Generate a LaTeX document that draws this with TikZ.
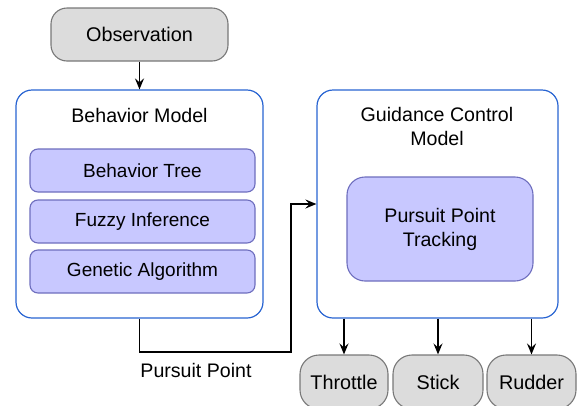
\documentclass[tikz,border=0pt]{standalone}
\usepackage{fontspec}
\setmainfont{Liberation Sans}
\usetikzlibrary{arrows.meta}
\definecolor{grayfill}{RGB}{220,220,220}
\definecolor{grayline}{RGB}{120,120,120}
\definecolor{blueline}{RGB}{40,100,210}
\definecolor{purfill}{RGB}{200,200,255}
\definecolor{purline}{RGB}{110,110,190}
\tikzset{
  grayterm/.style={draw=grayline, fill=grayfill, line width=1.1pt, rounded corners=16pt, inner sep=0pt,
    font=\fontsize{19.8}{23}\selectfont},
  modelbox/.style={draw=blueline, fill=white, line width=1.2pt, rounded corners=16pt, inner sep=0pt},
  subbox/.style={draw=purline, fill=purfill, line width=1.1pt, rounded corners=8pt, inner sep=0pt,
    font=\fontsize{19}{23}\selectfont, align=center},
  title/.style={font=\fontsize{19.6}{24}\selectfont, align=center, inner sep=0pt},
  arr/.style={draw=black, line width=1.8pt, -{Stealth[length=11pt,width=9pt,inset=4pt]}},
}
\begin{document}
\begin{tikzpicture}[x=1pt,y=-1pt]
\useasboundingbox (0,0) rectangle (581,405);
% observation
\node[grayterm, minimum width=177pt, minimum height=53pt] (obs) at (139.5,34.5) {Observation};
% behavior model
\node[modelbox, minimum width=247pt, minimum height=228pt] (bm) at (139.5,204) {};
\node[title] (bmt) at (139.5,115) {Behavior Model};
\node[subbox, minimum width=225pt, minimum height=43pt] (bt) at (142.5,170.5) {Behavior Tree};
\node[subbox, minimum width=225pt, minimum height=43pt] (fi) at (142.5,221.5) {Fuzzy Inference};
\node[subbox, minimum width=225pt, minimum height=43pt] (ga) at (142.5,271.5) {Genetic Algorithm};
% guidance control model
\node[modelbox, minimum width=241pt, minimum height=228pt] (gcm) at (437.5,204) {};
\node[title] (gcmt) at (437,126) {Guidance Control\\Model};
\node[subbox, rounded corners=18pt, minimum width=186pt, minimum height=104pt, font=\fontsize{19.6}{24}\selectfont] (ppt) at (440,229) {Pursuit Point\\Tracking};
% outputs
\node[grayterm, rounded corners=19pt, minimum width=88pt, minimum height=54pt] (thr) at (344,382) {Throttle};
\node[grayterm, rounded corners=19pt, minimum width=90pt, minimum height=54pt] (stk) at (438,382) {Stick};
\node[grayterm, rounded corners=19pt, minimum width=89pt, minimum height=54pt] (rud) at (531.5,382) {Rudder};
% connectors
\draw[arr] (obs.south) -- (bm.north);
\coordinate (k1) at (291,352);
\draw[arr] (bm.south) |- (k1) |- (gcm.west);
\node[title] (ppl) at (196,370) {Pursuit Point};
\draw[arr] (gcm.south -| thr.north) -- (thr.north);
\draw[arr] (gcm.south -| stk.north) -- (stk.north);
\draw[arr] (gcm.south -| rud.north) -- (rud.north);
\end{tikzpicture}
\end{document}
